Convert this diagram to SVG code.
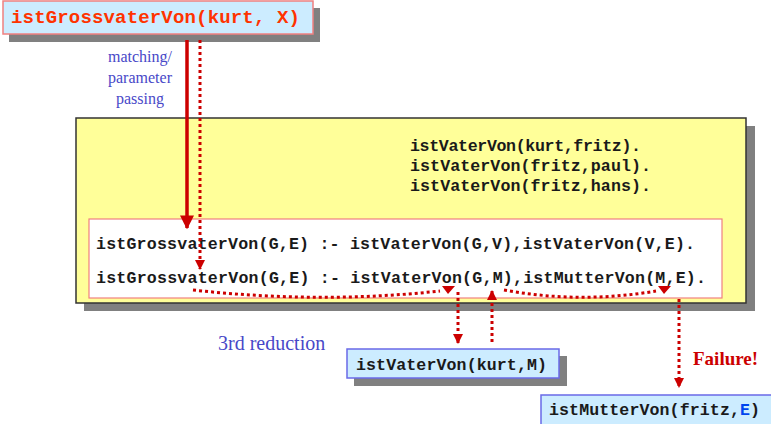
<svg xmlns="http://www.w3.org/2000/svg" width="771" height="424" viewBox="0 0 771 424">
<defs>
<style>
.code{font-family:"Liberation Mono","Courier New",monospace;font-weight:bold;font-size:16.6px;fill:#1a1a1a}
.lbl{font-family:"Liberation Serif","Times New Roman",serif;fill:#4848c8}
.sh{fill:#808080}
.dot{fill:none;stroke:#cc0000;stroke-width:3;stroke-dasharray:3 3}
.head{fill:#cc0000}
</style>
<marker id="ah" viewBox="0 0 10 10" refX="9" refY="5" markerWidth="4" markerHeight="4" orient="auto" markerUnits="strokeWidth">
<path d="M0,0 L10,5 L0,10 z" fill="#cc0000"/>
</marker>
<marker id="ahs" viewBox="0 0 10 10" refX="9" refY="5" markerWidth="3.5" markerHeight="3.5" orient="auto" markerUnits="strokeWidth">
<path d="M0,0 L10,5 L0,10 z" fill="#cc0000"/>
</marker>
</defs>
<rect width="771" height="424" fill="#ffffff"/>

<g id="query">
<rect class="sh" x="9" y="8" width="311" height="34"/>
<rect x="3" y="1" width="310" height="33" fill="#ccecff" stroke="#f08080" stroke-width="1.5"/>
<text x="11" y="23" style="font-family:'Liberation Mono','Courier New',monospace;font-weight:bold;font-size:19px;fill:#ff3300" textLength="289">istGrossvaterVon(kurt, X)</text>
</g>

<g id="program">
<rect class="sh" x="84" y="126" width="671" height="185"/>
<rect x="76" y="118" width="670" height="185" fill="#ffff99" stroke="#333333" stroke-width="1.5"/>
<text class="code" x="410" y="151" textLength="231">istVaterVon(kurt,fritz).</text>
<text class="code" x="410" y="171" textLength="241">istVaterVon(fritz,paul).</text>
<text class="code" x="410" y="191" textLength="241">istVaterVon(fritz,hans).</text>
</g>

<g id="rules">
<rect x="89" y="219" width="633" height="79" fill="#ffffff" stroke="#f08080" stroke-width="1.2"/>
<text class="code" x="96" y="249" textLength="599">istGrossvaterVon(G,E) :- istVaterVon(G,V),istVaterVon(V,E).</text>
<text class="code" x="96" y="283" textLength="610">istGrossvaterVon(G,E) :- istVaterVon(G,M),istMutterVon(M,E).</text>
</g>

<g id="label-matching">
<text class="lbl" x="140" y="62" font-size="16" text-anchor="middle">matching/</text>
<text class="lbl" x="140" y="83" font-size="16" text-anchor="middle">parameter</text>
<text class="lbl" x="140" y="104" font-size="16" text-anchor="middle">passing</text>
</g>

<g id="label-reduction">
<text class="lbl" x="218" y="350" font-size="20">3rd reduction</text>
</g>

<g id="label-failure">
<text x="693" y="365" style="font-family:'Liberation Serif','Times New Roman',serif;font-weight:bold;font-size:19px;fill:#cc0000">Failure!</text>
</g>

<g id="goal1">
<rect class="sh" x="354" y="356" width="213" height="30"/>
<rect x="347" y="349" width="212" height="29" fill="#ccecff" stroke="#6a6ae8" stroke-width="1.5"/>
<text class="code" x="356" y="370" textLength="191">istVaterVon(kurt,M)</text>
</g>

<g id="goal2">
<rect x="541" y="395" width="240" height="40" fill="#ccecff" stroke="#6a6ae8" stroke-width="1.5"/>
<text class="code" x="549" y="415" textLength="211">istMutterVon(fritz,<tspan fill="#0044ee">E</tspan>)</text>
</g>

<g id="connectors">
<line x1="187" y1="40" x2="187" y2="228" stroke="#cc0000" stroke-width="3.5" marker-end="url(#ah)"/>
<line class="dot" x1="200" y1="40" x2="200" y2="269" marker-end="url(#ahs)"/>
<path class="dot" d="M193,290 Q320,304 440,291"/>
<polygon class="head" points="442,286 455,286 448,294"/>
<path class="dot" d="M504,290 Q580,304 656,291"/>
<polygon class="head" points="658,286 671,286 664,294"/>
<line class="dot" x1="458" y1="292" x2="458" y2="343" marker-end="url(#ahs)"/>
<line class="dot" x1="492" y1="342" x2="492" y2="291" marker-end="url(#ahs)"/>
<line class="dot" x1="679" y1="299" x2="679" y2="387" marker-end="url(#ahs)"/>
</g>
</svg>
